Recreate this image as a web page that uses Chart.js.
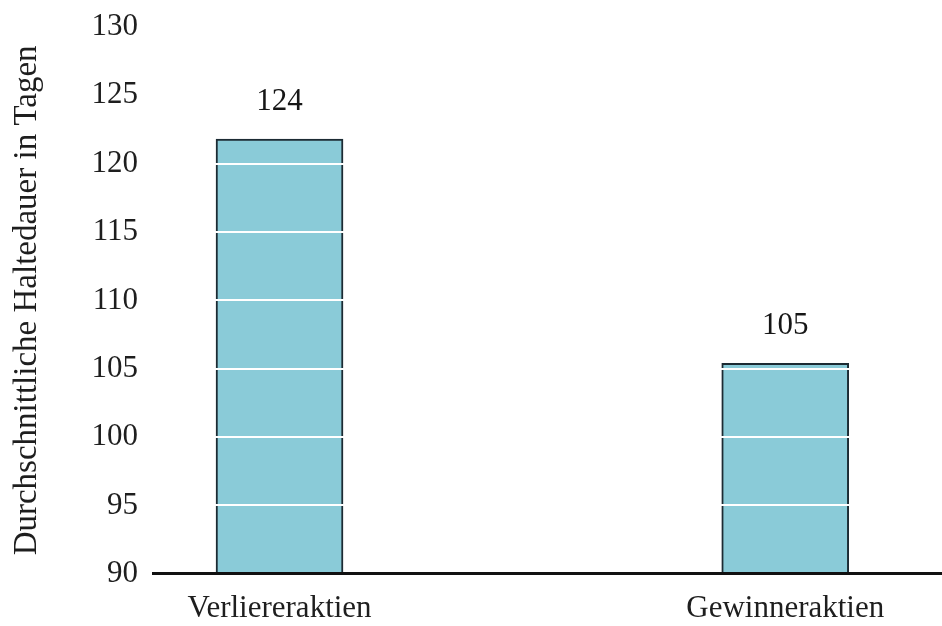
<!DOCTYPE html>
<html>
<head>
<meta charset="utf-8">
<script src="https://cdn.jsdelivr.net/npm/chart.js@4/dist/chart.umd.min.js"></script>
<style>
  html, body { margin: 0; padding: 0; background: #ffffff; }
  #wrap { width: 942px; height: 626px; }
</style>
</head>
<body>
<div id="wrap"><canvas id="c" width="942" height="626"></canvas></div>
<script>
const categories = ['Verliereraktien', 'Gewinneraktien'];
const barValues = [121.8, 105.4];
const valueLabels = ['124', '105'];
const yTicks = [90, 95, 100, 105, 110, 115, 120, 125, 130];
const yTitle = 'Durchschnittliche Haltedauer in Tagen';

const FONT = "'Liberation Serif', 'DejaVu Serif', serif";

const valueLabelPlugin = {
  id: 'valueLabels',
  afterDraw(chart) {
    const ctx = chart.ctx;
    const meta = chart.getDatasetMeta(0);
    ctx.save();
    ctx.font = '31px ' + FONT;
    ctx.fillStyle = '#161616';
    ctx.textAlign = 'center';
    ctx.textBaseline = 'middle';
    meta.data.forEach((bar, i) => {
      ctx.fillText(valueLabels[i], bar.x, bar.y - 37);
    });
    ctx.restore();
  }
};

new Chart(document.getElementById('c'), {
  type: 'bar',
  data: {
    datasets: [{
      data: barValues.map((v, i) => ({ x: i, y: v })),
      backgroundColor: '#8acbd8',
      borderColor: '#1c2b33',
      borderWidth: 2,
      borderSkipped: 'start',
      barThickness: 127
    }]
  },
  options: {
    responsive: false,
    animation: false,
    layout: { padding: { top: 27, left: 0, right: 0, bottom: -17 } },
    plugins: { legend: { display: false }, tooltip: { enabled: false } },
    scales: {
      x: {
        type: 'linear',
        min: -0.25,
        max: 1.31,
        offset: false,
        afterBuildTicks(scale) {
          scale.ticks = categories.map((c, i) => ({ value: i }));
        },
        ticks: {
          callback: (v) => categories[v],
          font: { family: FONT, size: 31, lineHeight: 1.2 },
          color: '#1e1e1e',
          padding: 16,
          maxRotation: 0,
          autoSkip: false
        },
        grid: { display: false, drawTicks: false, offset: false },
        border: { display: true, color: '#111111', width: 3, z: 2 }
      },
      y: {
        min: 90,
        max: 130,
        afterBuildTicks(scale) {
          scale.ticks = yTicks.map(v => ({ value: v }));
        },
        ticks: {
          font: { family: FONT, size: 31, lineHeight: 1.2 },
          color: '#1e1e1e',
          padding: 4
        },
        grid: {
          color: (ctx) => ctx.tick && ctx.tick.value === 90 ? 'rgba(0,0,0,0)' : '#ffffff',
          lineWidth: 2,
          drawTicks: true,
          tickLength: 11,
          tickColor: 'rgba(0,0,0,0)',
          z: 1
        },
        border: { display: false },
        title: {
          display: true,
          text: yTitle,
          font: { family: FONT, size: 33, lineHeight: 1.2 },
          color: '#1e1e1e',
          padding: { top: 8, bottom: 40 }
        }
      }
    }
  },
  plugins: [valueLabelPlugin]
});
</script>
</body>
</html>
